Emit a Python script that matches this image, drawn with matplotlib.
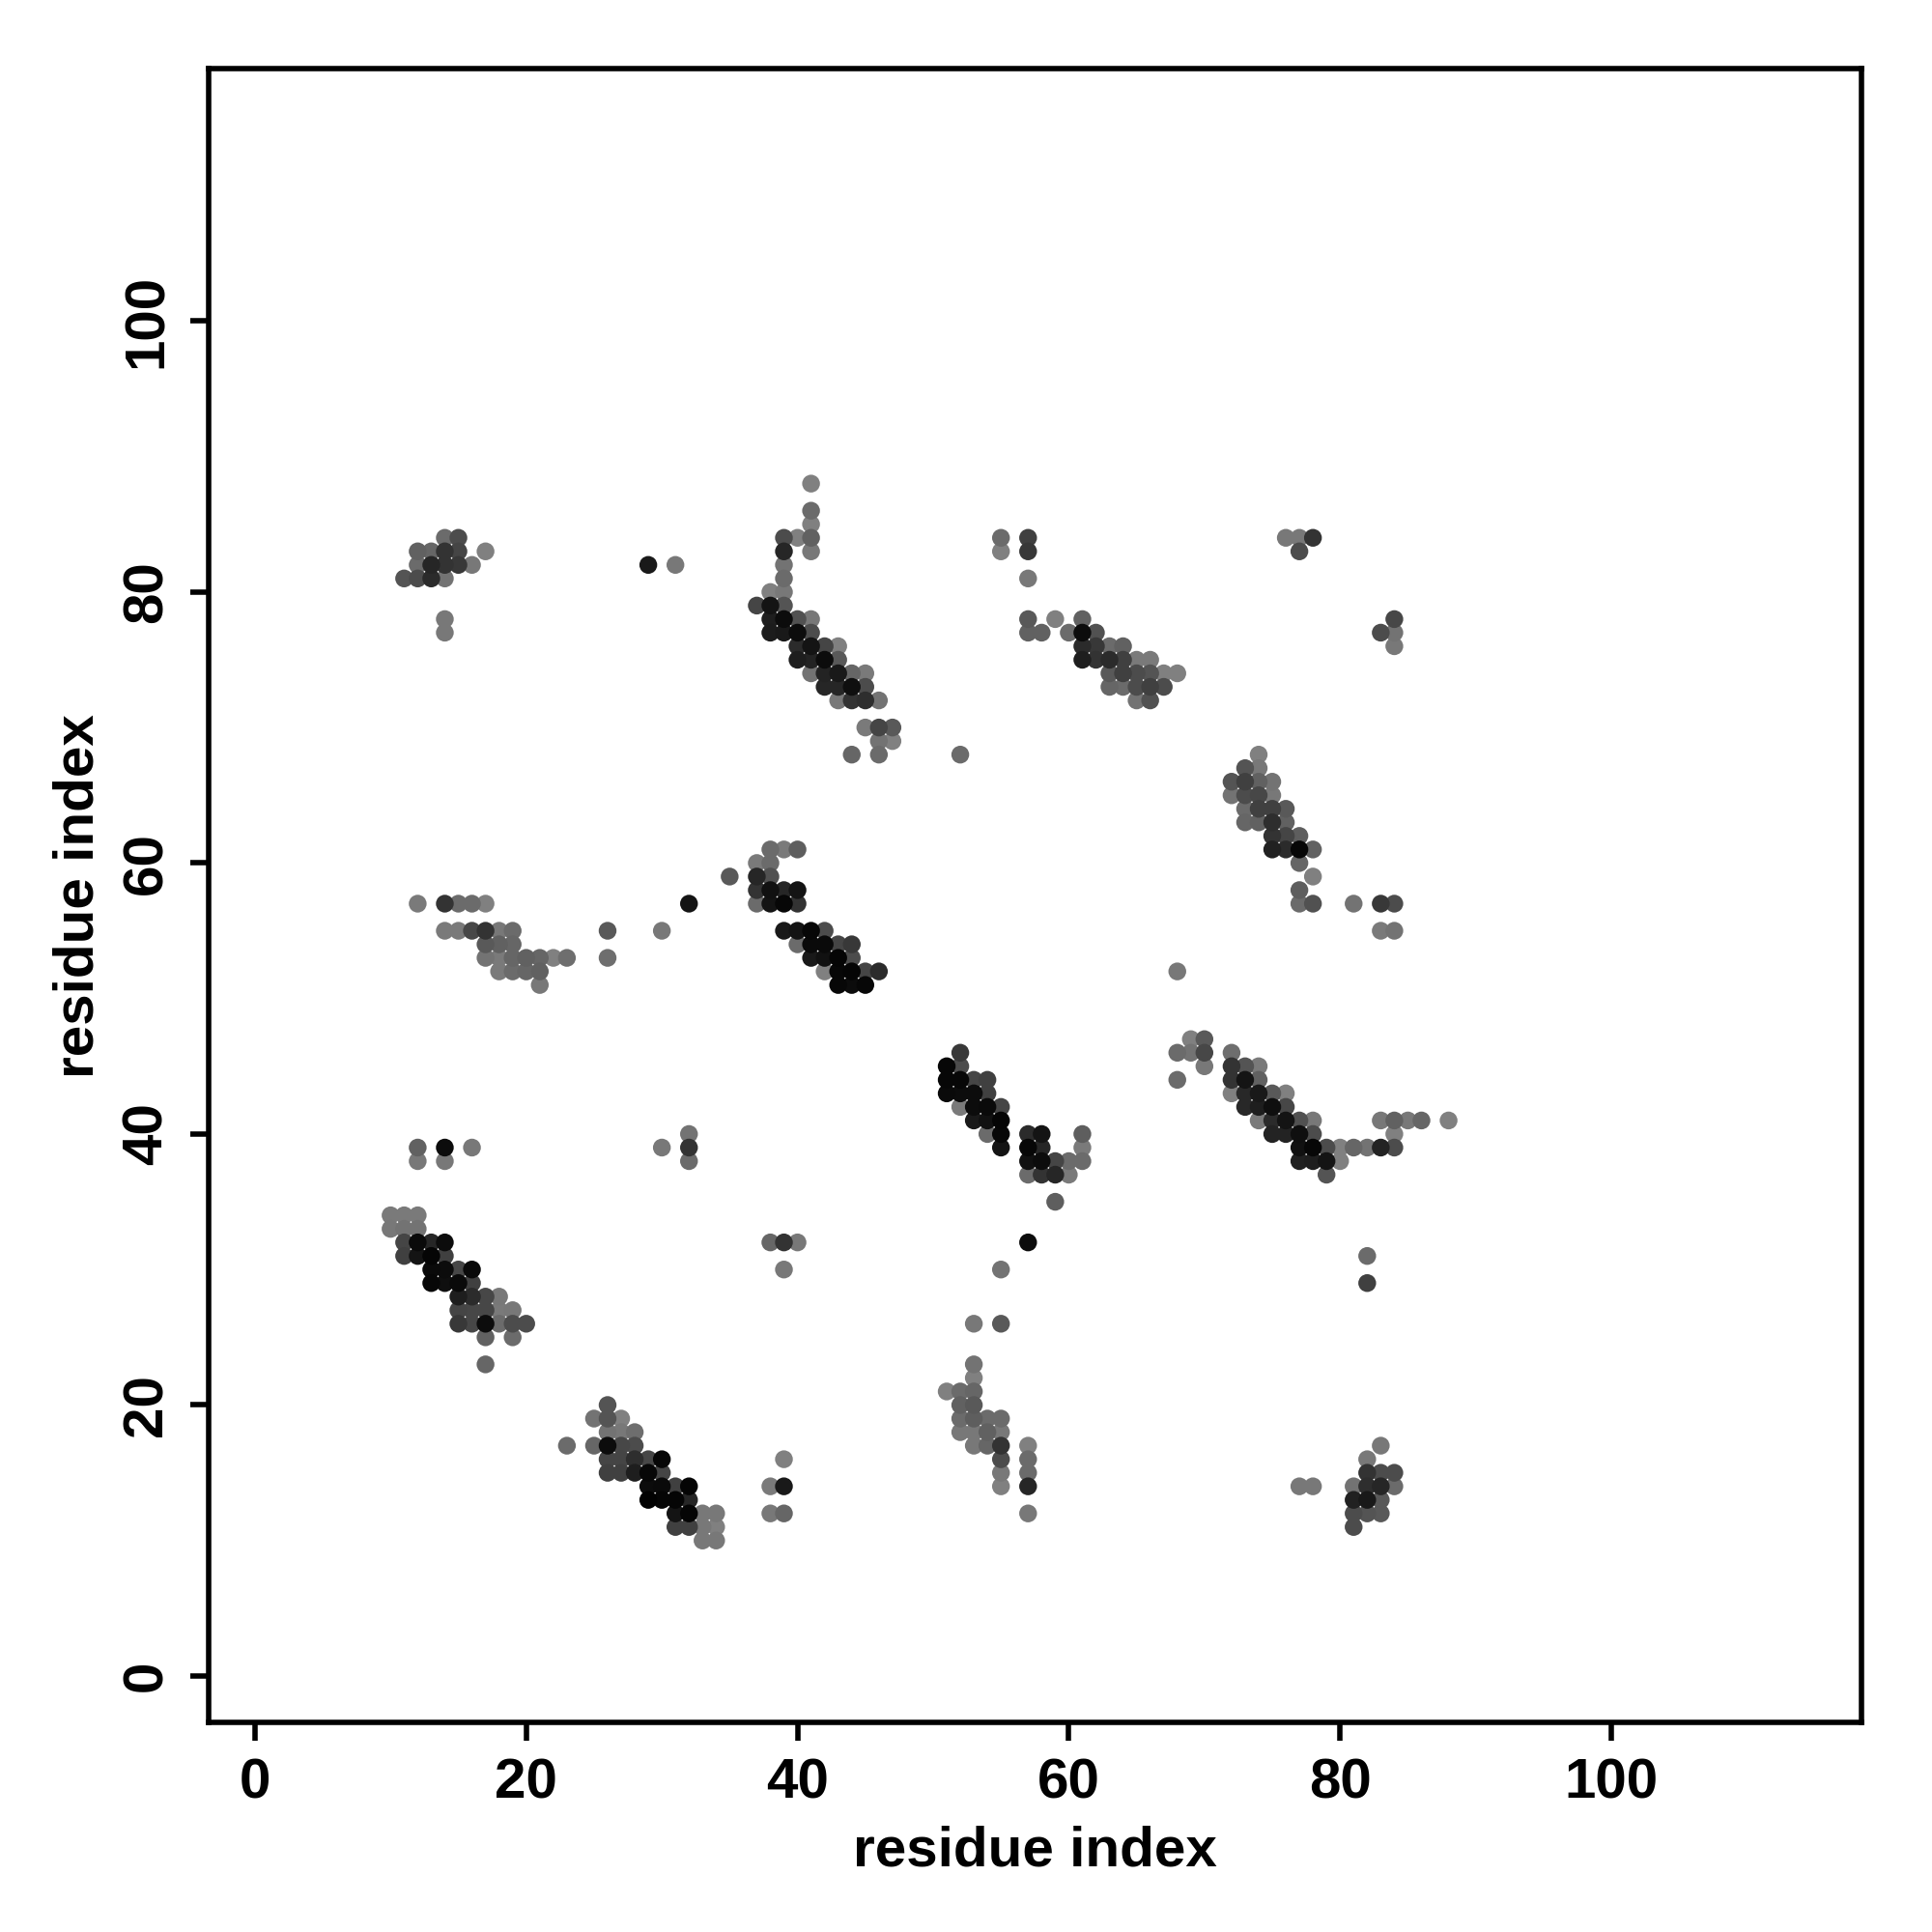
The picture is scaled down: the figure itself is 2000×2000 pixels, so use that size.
import numpy as np
import matplotlib
matplotlib.use('Agg')
import matplotlib.pyplot as plt

plt.rcParams['font.family'] = ['Liberation Sans', 'DejaVu Sans']
plt.rcParams['font.weight'] = 'bold'

# each block: row (y residue) -> [(x residue, grey level)]
block_a = {
    34: [(10,.48),(11,.48),(12,.48)],
    33: [(10,.47),(11,.45),(12,.45)],
    32: [(11,.27),(12,.04),(13,.15),(14,.05)],
    31: [(11,.25),(12,.08),(13,.02),(14,.25)],
    30: [(13,.04),(14,.05),(15,.28),(16,.04)],
    29: [(13,.03),(14,.06),(15,.04),(16,.25)],
    28: [(15,.12),(16,.17),(17,.28),(18,.47)],
    27: [(15,.27),(16,.28),(17,.28),(18,.48),(19,.47)],
    26: [(15,.22),(16,.28),(17,.05),(18,.42),(19,.3),(20,.3)],
    25: [(17,.38),(19,.42)],
    23: [(17,.4)],
}
block_b = {
    20: [(26,.33)],
    19: [(25,.45),(26,.33),(27,.5)],
    18: [(26,.45),(27,.47),(28,.43)],
    17: [(23,.42),(25,.4),(26,.05),(27,.28),(28,.3)],
    16: [(26,.27),(27,.27),(28,.18),(29,.28),(30,.03),(39,.5)],
    15: [(26,.25),(27,.25),(28,.12),(29,.03),(30,.27)],
    14: [(29,.05),(30,.04),(31,.25),(32,.02),(38,.48),(39,.1)],
    13: [(29,.01),(30,.02),(31,.02),(32,.15)],
    12: [(31,.08),(32,.02),(33,.47),(34,.47),(38,.47),(39,.4)],
    11: [(31,.25),(32,.25),(33,.47),(34,.5)],
    10: [(33,.47),(34,.47)],
}
block_c = {
    46: [(52,.22)],
    45: [(51,.03),(52,.3)],
    44: [(51,.03),(52,.03),(53,.27),(54,.25)],
    43: [(51,.04),(52,.05),(53,.05),(54,.25)],
    42: [(52,.48),(53,.05),(54,.04),(55,.27)],
    41: [(53,.1),(54,.07),(55,.02)],
    40: [(54,.42),(55,.03),(57,.17),(58,.08),(61,.37)],
    39: [(55,.08),(57,.03),(58,.15),(61,.48)],
    38: [(57,.07),(58,.05),(59,.27),(60,.42),(61,.42)],
    37: [(57,.42),(58,.2),(59,.15),(60,.48)],
    35: [(59,.37)],
    32: [(57,.05)],
    30: [(55,.45)],
    26: [(53,.47),(55,.35)],
}
block_d = {
    47: [(69,.5),(70,.35)],
    46: [(68,.42),(69,.45),(70,.28),(72,.43)],
    45: [(70,.47),(72,.2),(73,.33),(74,.48)],
    44: [(68,.42),(72,.2),(73,.08),(74,.38)],
    43: [(72,.5),(73,.16),(74,.1),(75,.35),(76,.5)],
    42: [(73,.16),(74,.12),(75,.06),(76,.28)],
    41: [(74,.48),(75,.17),(76,.08),(77,.32),(78,.47),(83,.47),(84,.38),(85,.47),(86,.4),(88,.5)],
    40: [(75,.14),(76,.14),(77,.06),(78,.3),(84,.5)],
    39: [(77,.07),(78,.03),(79,.3),(80,.5),(81,.4),(82,.45),(83,.14),(84,.3)],
    38: [(77,.13),(78,.12),(79,.08),(80,.5)],
    37: [(79,.33)],
    31: [(82,.42)],
    29: [(82,.25)],
}
block_e = {
    61: [(38,.42),(39,.48),(40,.37)],
    60: [(37,.48),(38,.42)],
    59: [(35,.35),(37,.15),(38,.32)],
    58: [(37,.2),(38,.07),(39,.15),(40,.08)],
    57: [(32,.08),(37,.42),(38,.08),(39,.03),(40,.2)],
    55: [(26,.35),(30,.47),(39,.1),(40,.08),(41,.03),(42,.3)],
    54: [(40,.42),(41,.04),(42,.04),(43,.27),(44,.22)],
    53: [(26,.43),(41,.1),(42,.07),(43,.02),(44,.3)],
    52: [(42,.5),(43,.03),(44,.02),(45,.27),(46,.17)],
    51: [(43,.03),(44,.05),(45,.03)],
}
block_f = {
    88: [(41,.5)],
    86: [(41,.42)],
    85: [(41,.5)],
    84: [(39,.3),(40,.5),(41,.38)],
    83: [(39,.15),(41,.47)],
    82: [(29,.1),(31,.47),(39,.45)],
    81: [(39,.42)],
    80: [(38,.5),(39,.47)],
    79: [(37,.27),(38,.08),(39,.33)],
    78: [(38,.12),(39,.05),(40,.32),(41,.47)],
    77: [(38,.11),(39,.1),(40,.05),(41,.3)],
    76: [(40,.17),(41,.08),(42,.27),(43,.5)],
    75: [(40,.12),(41,.14),(42,.05),(43,.35)],
    74: [(41,.45),(42,.14),(43,.1),(44,.4),(45,.48)],
    73: [(42,.15),(43,.15),(44,.06),(45,.3)],
    72: [(43,.47),(44,.2),(45,.18),(46,.45)],
    70: [(45,.48),(46,.27),(47,.35)],
    69: [(46,.45),(47,.5)],
    68: [(44,.4),(46,.42),(52,.42)],
}
block_g = {
    84: [(55,.42),(57,.25)],
    83: [(55,.5),(57,.22)],
    81: [(57,.47)],
    78: [(57,.35),(59,.5),(61,.38)],
    77: [(57,.38),(58,.38),(60,.42),(61,.05),(62,.32)],
    76: [(61,.17),(62,.22),(63,.42),(64,.38)],
    75: [(61,.12),(62,.2),(63,.17),(64,.25),(65,.48),(66,.48)],
    74: [(63,.35),(64,.25),(65,.3),(66,.33),(67,.5),(68,.5)],
    73: [(63,.4),(64,.42),(65,.3),(66,.25),(67,.3)],
    72: [(65,.45),(66,.32)],
}
block_h = {
    68: [(74,.5)],
    67: [(73,.33),(74,.47)],
    66: [(72,.33),(73,.25),(74,.38),(75,.45)],
    65: [(72,.45),(73,.3),(74,.28),(75,.47)],
    64: [(73,.42),(74,.25),(75,.25),(76,.35)],
    63: [(73,.4),(74,.38),(75,.18),(76,.38)],
    62: [(75,.2),(76,.27),(77,.37)],
    61: [(75,.13),(76,.17),(77,.03),(78,.38)],
    60: [(77,.4)],
    59: [(78,.5)],
    58: [(77,.37)],
    57: [(77,.42),(78,.32),(81,.45),(83,.22),(84,.3)],
    55: [(83,.48),(84,.45)],
    52: [(68,.47)],
}
block_i = {
    57: [(12,.48),(14,.2),(15,.42),(16,.42),(17,.5)],
    55: [(14,.48),(15,.48),(16,.28),(17,.2),(18,.47),(19,.42)],
    54: [(17,.35),(18,.38),(19,.4)],
    53: [(17,.45),(18,.48),(19,.4),(20,.38),(21,.4),(22,.5),(23,.43)],
    52: [(18,.48),(19,.42),(20,.4),(21,.38)],
    51: [(21,.47)],
}
block_j = {
    84: [(14,.42),(15,.3)],
    83: [(12,.38),(13,.4),(14,.2),(15,.27),(17,.5)],
    82: [(12,.42),(13,.15),(14,.2),(15,.22),(16,.47)],
    81: [(11,.33),(12,.3),(13,.17),(14,.45)],
    78: [(14,.47)],
    77: [(14,.47)],
}
block_k = {
    23: [(53,.45)],
    22: [(53,.5)],
    21: [(51,.5),(52,.42),(53,.4)],
    20: [(52,.38),(53,.35)],
    19: [(52,.42),(53,.37),(54,.42),(55,.42)],
    18: [(52,.47),(53,.47),(54,.38),(55,.47)],
    17: [(53,.47),(54,.4),(55,.2),(57,.5)],
    16: [(55,.3),(57,.42)],
    15: [(55,.47),(57,.42)],
    14: [(55,.5),(57,.15)],
    12: [(57,.47)],
}
block_l = {
    17: [(83,.47)],
    16: [(82,.47)],
    15: [(82,.2),(83,.3),(84,.3)],
    14: [(77,.47),(78,.47),(81,.45),(82,.18),(83,.15),(84,.42)],
    13: [(81,.13),(82,.1),(83,.35)],
    12: [(81,.3),(82,.33),(83,.35)],
    11: [(81,.3)],
}
block_m = {
    84: [(76,.47),(77,.47),(78,.2)],
    83: [(77,.3)],
    78: [(84,.28)],
    77: [(83,.3),(84,.45)],
    76: [(84,.47)],
    40: [(32,.45)],
    39: [(12,.38),(14,.05),(16,.47),(30,.47),(32,.2)],
    38: [(12,.47),(14,.47),(32,.42)],
    32: [(38,.4),(39,.2),(40,.47)],
    30: [(39,.47)],
}
blocks = [block_a, block_b, block_c, block_d, block_e, block_f, block_g,
          block_h, block_i, block_j, block_k, block_l, block_m]

ticks = [0, 20, 40, 60, 80, 100]

xs, ys, gs = [], [], []
for b in blocks:
    for row, pts in b.items():
        for px, g in pts:
            xs.append(px)
            ys.append(row)
            gs.append(g)
xs, ys, gs = np.array(xs), np.array(ys), np.array(gs)
# darker dots sit on top
order = np.argsort(-gs, kind='stable')

fig = plt.figure(figsize=(10, 10), dpi=200)
ax = fig.add_axes([215.6/2000, 1-1783/2000, (1927-215.6)/2000, (1783-71.4)/2000])
ax.scatter(xs[order], ys[order], s=44, c=gs[order], cmap='gray', vmin=0, vmax=1,
           linewidths=0, zorder=3)
ax.set_xlim(-3.44, 118.44)
ax.set_ylim(-3.42, 118.6)
ax.set_xticks(ticks)
ax.set_yticks(ticks)
ax.tick_params(length=7, width=2, labelsize=21, pad=6)
plt.setp(ax.get_yticklabels(), rotation=90, va='center')
ax.set_xlabel('residue index', fontsize=21, fontweight='bold', labelpad=6)
ax.set_ylabel('residue index', fontsize=21, fontweight='bold', labelpad=6)
for s in ax.spines.values():
    s.set_linewidth(2)

fig.savefig('out.png', dpi=200)
